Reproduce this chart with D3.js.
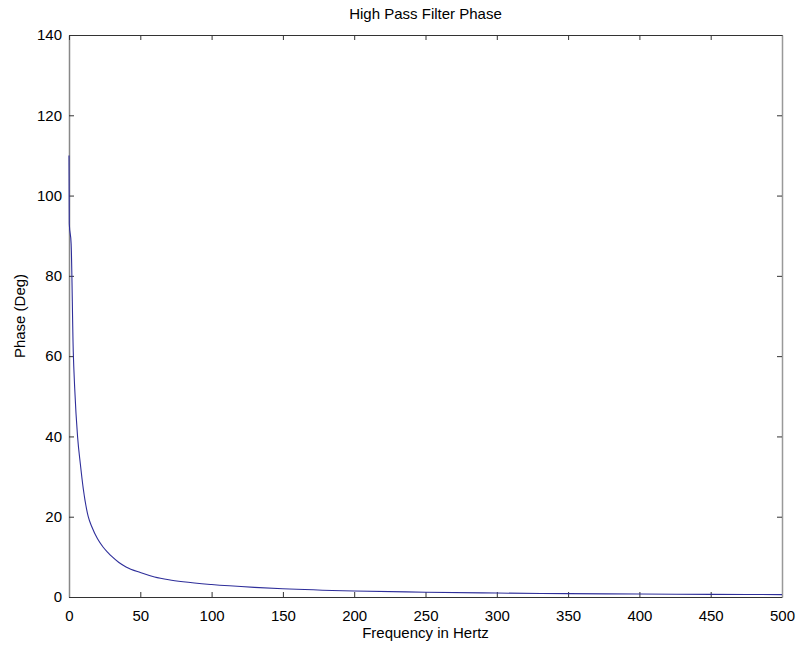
<!DOCTYPE html>
<html>
<head>
<meta charset="utf-8">
<script src="https://cdn.jsdelivr.net/npm/d3@7"></script>
<style>
  html, body { margin: 0; padding: 0; background: #fff; }
  svg { display: block; }
  text { font-family: "Liberation Sans", Arial, sans-serif; fill: #000; }
</style>
</head>
<body>
<script>
// Phase response of the high pass filter (degrees vs. Hz)
const freqHz = [0, 0.2, 1.5, 3, 4, 6, 8, 10, 13.5, 16, 20, 24, 27.5, 30, 35, 40, 50, 60, 70, 80, 100, 130, 150, 200, 250, 300, 350, 400, 450, 500];
const phaseDeg = [110, 93, 88, 61, 52, 40, 33, 27, 20, 17.5, 14.5, 12.4, 11, 10.1, 8.6, 7.5, 6.1, 5.0, 4.3, 3.8, 3.1, 2.4, 2.05, 1.5, 1.2, 0.98, 0.84, 0.74, 0.66, 0.6];
const xTicks = [0, 50, 100, 150, 200, 250, 300, 350, 400, 450, 500];
const yTicks = [0, 20, 40, 60, 80, 100, 120, 140];

const W = 802, H = 648;
const m = { left: 69, right: 20, top: 35, bottom: 51 };

const svg = d3.select("body").append("svg").attr("width", W).attr("height", H);

const x = d3.scaleLinear().domain([0, 500]).range([m.left, W - m.right]);
const y = d3.scaleLinear().domain([0, 140]).range([H - m.bottom, m.top]);

const tickLen = 5;

// Bottom axis with inward ticks
const gx = svg.append("g").attr("transform", `translate(0,${y(0)})`)
  .call(d3.axisBottom(x).tickValues(xTicks).tickSizeInner(-tickLen).tickSizeOuter(0).tickPadding(13));
// Left axis with inward ticks
const gy = svg.append("g").attr("transform", `translate(${x(0)},0)`)
  .call(d3.axisLeft(y).tickValues(yTicks).tickSizeInner(-tickLen).tickSizeOuter(0).tickPadding(7));
// Top and right mirror ticks
const gt = svg.append("g").attr("transform", `translate(0,${y(140)})`)
  .call(d3.axisTop(x).tickValues(xTicks).tickSizeInner(-tickLen).tickSizeOuter(0).tickFormat(""));
const gr = svg.append("g").attr("transform", `translate(${x(500)},0)`)
  .call(d3.axisRight(y).tickValues(yTicks).tickSizeInner(-tickLen).tickSizeOuter(0).tickFormat(""));

[gx, gy, gt, gr].forEach(g => {
  g.selectAll("text").style("font-size", "15px").style("font-family", "Liberation Sans, Arial, sans-serif");
  g.selectAll(".tick line").attr("stroke", "#333");
});
gx.select(".domain").attr("stroke", "#333");
gt.select(".domain").attr("stroke", "#333");
gy.select(".domain").attr("stroke", "#888").attr("stroke-width", 1.5);
gr.select(".domain").attr("stroke", "#999").attr("stroke-width", 1.5);

// Phase curve
const line = d3.line()
  .x((d, i) => x(freqHz[i]))
  .y(d => y(d))
  .curve(d3.curveMonotoneX);

svg.append("path")
  .datum(phaseDeg)
  .attr("fill", "none")
  .attr("stroke", "#2e2e9a")
  .attr("stroke-width", 1.1)
  .attr("d", line);

// Title and axis labels
svg.append("text")
  .attr("x", (x(0) + x(500)) / 2).attr("y", 19)
  .attr("text-anchor", "middle").style("font-size", "15px")
  .text("High Pass Filter Phase");

svg.append("text")
  .attr("x", (x(0) + x(500)) / 2).attr("y", 638)
  .attr("text-anchor", "middle").style("font-size", "15px")
  .text("Frequency in Hertz");

svg.append("text")
  .attr("transform", `translate(25,${(y(0) + y(140)) / 2}) rotate(-90)`)
  .attr("text-anchor", "middle").style("font-size", "15px")
  .text("Phase (Deg)");
</script>
</body>
</html>
